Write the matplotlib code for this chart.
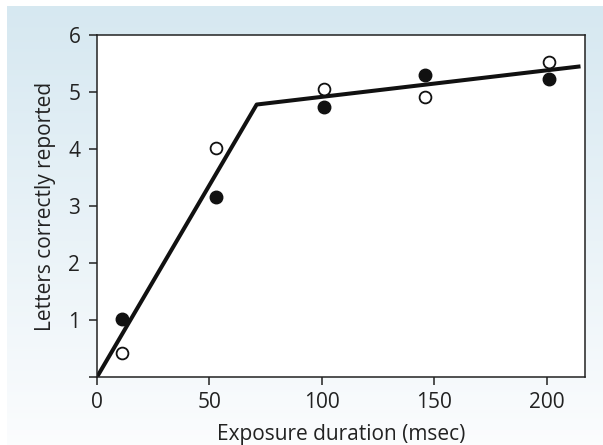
import numpy as np
import matplotlib.pyplot as plt

# exposure durations (msec) and letters reported
durations = [11, 53, 101, 146, 201]
filled_scores = [1.02, 3.15, 4.73, 5.30, 5.23]
open_scores = [0.42, 4.02, 5.06, 4.92, 5.53]

# fitted two-segment line
fit_x = [0, 71, 215]
fit_y = [0, 4.78, 5.45]

x_ticks = [0, 50, 100, 150, 200]
y_ticks = [0, 1, 2, 3, 4, 5, 6]
y_tick_labels = ['', '1', '2', '3', '4', '5', '6']

plt.rcParams['font.family'] = ['Open Sans', 'DejaVu Sans']

fig = plt.figure(figsize=(6.03, 4.45), dpi=100, facecolor='white')

# light blue gradient panel behind the chart
bg = fig.add_axes([7 / 603, 0, 1 - 7 / 603, 1 - 6 / 445])
top = np.array([0.84, 0.91, 0.945])
bottom = np.array([0.985, 0.99, 0.995])
t = np.linspace(0, 1, 256)[:, None]
grad = top + (bottom - top) * t
bg.imshow(grad[:, None, :], aspect='auto', extent=[0, 1, 0, 1])
bg.set_axis_off()

ax = fig.add_axes([97 / 603, 1 - 377 / 445, (585 - 97) / 603, (377 - 35) / 445])
ax.set_facecolor('white')

ax.plot(fit_x, fit_y, color='#111111', linewidth=2.9, solid_capstyle='butt', zorder=2)
ax.plot(durations, filled_scores, 'o', color='#111111', markersize=9, zorder=3)
ax.plot(durations, open_scores, 'o', markerfacecolor='white', markeredgecolor='#111111',
        markeredgewidth=1.3, markersize=8.5, zorder=3)

ax.set_xlim(0, 217)
ax.set_ylim(0, 6)
ax.set_xticks(x_ticks)
ax.set_yticks(y_ticks)
ax.set_yticklabels(y_tick_labels)
ax.tick_params(direction='out', length=6, width=1.1, labelsize=15, color='#222222',
               labelcolor='#222222')
ax.tick_params(axis='x', pad=5)
ax.tick_params(axis='y', pad=6)
for spine in ax.spines.values():
    spine.set_linewidth(1.1)
    spine.set_color('#222222')

ax.set_xlabel('Exposure duration (msec)', fontsize=15, color='#222222', labelpad=8)
ax.set_ylabel('Letters correctly reported', fontsize=15, color='#222222', labelpad=9)

plt.savefig('out.png', dpi=100, facecolor=fig.get_facecolor())
